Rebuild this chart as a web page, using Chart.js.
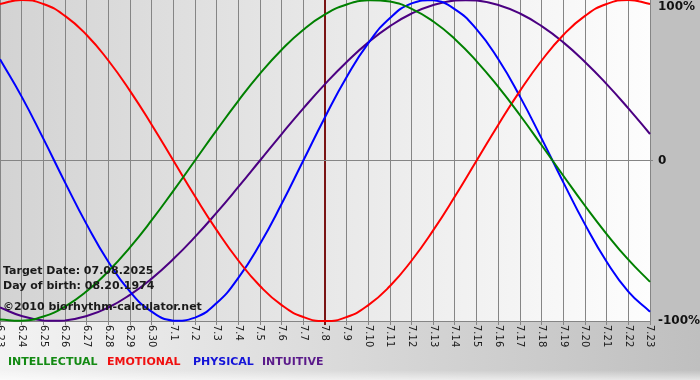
<!DOCTYPE html>
<html><head><meta charset="utf-8">
<script src="https://cdn.jsdelivr.net/npm/chart.js@4.4.0/dist/chart.umd.min.js"></script>
<style>
html,body{margin:0;padding:0;background:#fff;}
#wrap{position:relative;width:700px;height:380px;overflow:hidden;}
canvas{position:absolute;left:0;top:0;}
.t{position:absolute;font:bold 11px "DejaVu Sans",sans-serif;line-height:13px;white-space:nowrap;}
</style></head><body>
<div id="wrap">
<canvas id="c" width="700" height="380"></canvas>
<div class="t" style="left:3px;top:264px;color:#1a1a1a">Target Date: 07.08.2025</div>
<div class="t" style="left:3px;top:279px;color:#1a1a1a">Day of birth: 08.20.1974</div>
<div class="t" style="left:3px;top:300px;color:#1a1a1a">©2010 biorhythm-calculator.net</div>
<div class="t" style="left:8px;top:355px;color:#138a13">INTELLECTUAL</div>
<div class="t" style="left:107px;top:355px;color:#f01010">EMOTIONAL</div>
<div class="t" style="left:193px;top:355px;color:#1414d8">PHYSICAL</div>
<div class="t" style="left:262px;top:355px;color:#5a1a8a">INTUITIVE</div>
</div>
<script>
const dayLabels = ['6.23','6.24','6.25','6.26','6.27','6.28','6.29','6.30',
  '7.1','7.2','7.3','7.4','7.5','7.6','7.7','7.8','7.9','7.10','7.11','7.12','7.13',
  '7.14','7.15','7.16','7.17','7.18','7.19','7.20','7.21','7.22','7.23'];
const intellectual = [-0.990,-0.999,-0.972,-0.910,-0.815,-0.690,-0.541,-0.372,-0.189,0.000,0.189,0.372,0.541,0.690,0.815,0.910,
  0.972,0.999,0.990,0.945,0.866,0.756,0.618,0.458,0.282,0.095,-0.095,-0.282,-0.458,-0.618,-0.756];
const emotional = [0.975,1.000,0.975,0.901,0.782,0.623,0.434,0.223,0.000,-0.223,-0.434,-0.623,-0.782,-0.901,-0.975,-1.000,
  -0.975,-0.901,-0.782,-0.623,-0.434,-0.223,0.000,0.223,0.434,0.623,0.782,0.901,0.975,1.000,0.975];
const physical = [0.631,0.398,0.136,-0.136,-0.398,-0.631,-0.817,-0.942,-0.998,-0.979,-0.888,-0.731,-0.520,-0.270,0.000,0.270,
  0.520,0.731,0.888,0.979,0.998,0.942,0.817,0.631,0.398,0.136,-0.136,-0.398,-0.631,-0.817,-0.942];
const intuitive = [-0.916,-0.969,-0.997,-0.997,-0.969,-0.916,-0.837,-0.736,-0.614,-0.476,-0.325,-0.165,0.000,0.165,0.325,0.476,
  0.614,0.736,0.837,0.916,0.969,0.997,0.997,0.969,0.916,0.837,0.736,0.614,0.476,0.325,0.165];
const percentTicks = [-1, 0, 1];
const percentLabels = ['-100%', '0', '100%'];
const targetDay = '7.8';

const bgPlugin = {
  id: 'bg',
  beforeDraw(chart) {
    const ctx = chart.ctx, a = chart.chartArea, W = chart.width, H = chart.height;
    ctx.save();
    let g = ctx.createLinearGradient(0, 0, W, 0);
    g.addColorStop(0, '#f3f3f3'); g.addColorStop(1, '#bfbfbf');
    ctx.fillStyle = g; ctx.fillRect(0, 0, W, H);
    let v = ctx.createLinearGradient(0, H - 10, 0, H);
    v.addColorStop(0, 'rgba(255,255,255,0)'); v.addColorStop(1, 'rgba(255,255,255,0.6)');
    ctx.fillStyle = v; ctx.fillRect(0, H - 10, W, 10);
    ctx.fillStyle = '#c0c0c0'; ctx.fillRect(a.right, 0, W - a.right, a.bottom);
    let p = ctx.createLinearGradient(a.left, 0, a.right, 0);
    p.addColorStop(0, '#d3d3d3'); p.addColorStop(1, '#fdfdfd');
    ctx.fillStyle = p; ctx.fillRect(a.left, a.top, a.right - a.left, a.bottom - a.top);
    ctx.restore();
    const xs = chart.scales.x;
    xs.getLabelItems().forEach((it, i) => {
      it.textOffset = 0;
      it.options.rotation = Math.PI / 2;
      it.options.textAlign = 'left';
      it.options.textBaseline = 'middle';
      it.options.translation = [xs.getPixelForTick(i), xs.top + 4];
    });
    const ys = chart.scales.y;
    ys.getLabelItems().forEach(it => {
      if (it.label === '100%') {
        it.options.textBaseline = 'top';
        it.options.translation = [it.options.translation[0], ys.top + 1];
      }
    });
  }
};

const mk = (label, data, color) => ({
  label, data, borderColor: color, borderWidth: 2, pointRadius: 0,
  tension: 0.5, fill: false, clip: 3
});

new Chart(document.getElementById('c'), {
  type: 'line',
  data: {
    labels: dayLabels,
    datasets: [
      mk('INTELLECTUAL', intellectual, '#008000'),
      mk('EMOTIONAL', emotional, '#ff0000'),
      mk('PHYSICAL', physical, '#0000ff'),
      mk('INTUITIVE', intuitive, '#4b0082')
    ]
  },
  options: {
    responsive: false, animation: false, devicePixelRatio: 1,
    layout: { padding: 0 },
    plugins: { legend: { display: false }, tooltip: { enabled: false } },
    scales: {
      x: {
        type: 'category', offset: false,
        grid: {
          color: c => (dayLabels[c.index] === targetDay ? '#7a1414' : '#858585'),
          lineWidth: c => (dayLabels[c.index] === targetDay ? 2 : 1),
          tickLength: 4
        },
        border: { display: true, color: '#858585' },
        ticks: {
          autoSkip: false, minRotation: 90, maxRotation: 90, padding: 0,
          font: { family: 'DejaVu Sans', size: 10 }, color: '#1a1a1a'
        },
        afterFit(s) { s.height = 59; s.paddingLeft = 0; s.paddingRight = 0; }
      },
      y: {
        position: 'right', min: -1, max: 1,
        afterBuildTicks(s) { s.ticks = percentTicks.map(v => ({ value: v })); },
        grid: {
          color: c => (c.tick && c.tick.value === 0 ? '#858585' : 'rgba(0,0,0,0)'),
          tickLength: 3
        },
        border: { display: false },
        ticks: {
          padding: 5, crossAlign: 'near',
          callback: v => percentLabels[percentTicks.indexOf(v)],
          font: { family: 'DejaVu Sans', size: 12, weight: 'bold' }, color: '#111'
        },
        afterFit(s) { s.width = 50; s.paddingTop = 0; s.paddingBottom = 0; }
      }
    }
  },
  plugins: [bgPlugin]
});
</script>
</body></html>
